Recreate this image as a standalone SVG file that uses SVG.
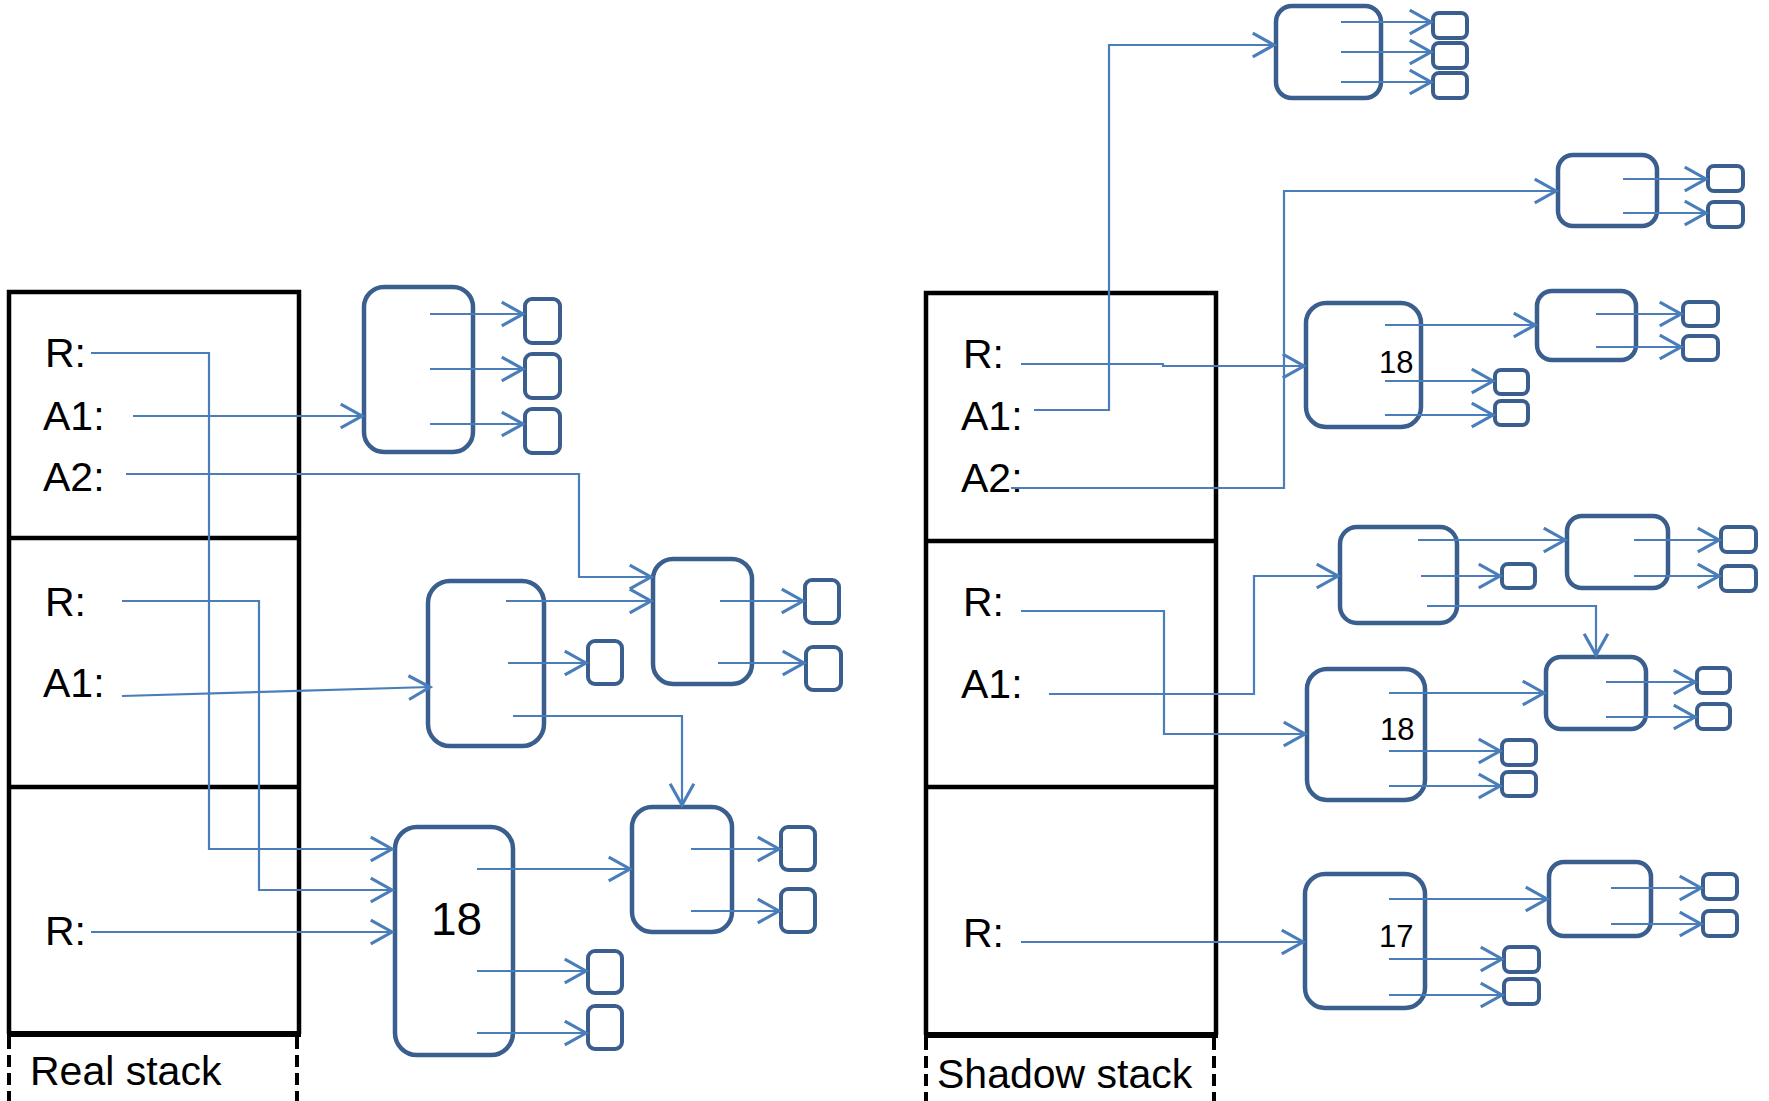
<svg xmlns="http://www.w3.org/2000/svg" width="1769" height="1101" viewBox="0 0 1769 1101">
<style>
.stk{fill:none;stroke:#000;stroke-width:4.5}
.bot{fill:none;stroke:#000;stroke-width:6}
.dash{fill:none;stroke:#000;stroke-width:4;stroke-dasharray:12 6}
.nd{fill:#fff;stroke:#3A5F8E;stroke-width:4.5}
.sm{fill:#fff;stroke:#3A5F8E;stroke-width:4}
.lbl{font-family:"Liberation Sans",Arial,sans-serif;font-size:41px;fill:#000}
.num{font-family:"Liberation Sans",Arial,sans-serif;font-size:46px;fill:#000}
.nums{font-family:"Liberation Sans",Arial,sans-serif;font-size:31px;fill:#000}
.c{fill:none;stroke:#4A7EBB;stroke-width:2.2;marker-end:url(#a)}
</style>
<defs>
<marker id="a" markerUnits="userSpaceOnUse" markerWidth="30" markerHeight="30" viewBox="-20 -12 24 24" refX="0" refY="0" orient="auto" overflow="visible">
<path d="M-17,-9.5 L0,0 L-17,9.5" fill="none" stroke="#4A7EBB" stroke-width="2.5"/>
</marker>
</defs>
<rect width="1769" height="1101" fill="#fff"/>

<g id="real-stack">
<path class="stk" d="M9,1034 V292 H299 V1034"/>
<path class="stk" d="M9,538 H299 M9,787 H299"/>
<path class="bot" d="M7,1034 H301"/>
<path class="dash" d="M9,1037 V1101 M297,1037 V1101"/>
<text class="lbl" x="30" y="1085">Real stack</text>
<text class="lbl" x="45" y="367">R:</text>
<text class="lbl" x="43" y="430">A1:</text>
<text class="lbl" x="43" y="491">A2:</text>
<text class="lbl" x="45" y="616">R:</text>
<text class="lbl" x="43" y="697">A1:</text>
<text class="lbl" x="45" y="945">R:</text>
</g>

<g id="shadow-stack">
<path class="stk" d="M926,1035 V293 H1216 V1035"/>
<path class="stk" d="M926,541 H1216 M926,787 H1216"/>
<path class="bot" d="M924,1035 H1218"/>
<path class="dash" d="M926,1038 V1101 M1214,1038 V1101"/>
<text class="lbl" x="937" y="1088">Shadow stack</text>
<text class="lbl" x="963" y="368">R:</text>
<text class="lbl" x="961" y="430">A1:</text>
<text class="lbl" x="961" y="492">A2:</text>
<text class="lbl" x="963" y="616">R:</text>
<text class="lbl" x="961" y="698">A1:</text>
<text class="lbl" x="963" y="947">R:</text>
</g>

<g id="L1"><rect class="nd" x="364" y="287" width="109" height="165" rx="20"/></g>
<g id="L1a"><rect class="sm" x="525" y="299" width="35" height="44" rx="7"/></g>
<g id="L1b"><rect class="sm" x="525" y="354" width="35" height="44" rx="7"/></g>
<g id="L1c"><rect class="sm" x="525" y="409" width="35" height="44" rx="7"/></g>
<g id="L2"><rect class="nd" x="428" y="581" width="116" height="165" rx="22"/></g>
<g id="L2a"><rect class="sm" x="588" y="641" width="34" height="43" rx="7"/></g>
<g id="L3"><rect class="nd" x="653" y="559" width="99" height="125" rx="20"/></g>
<g id="L3a"><rect class="sm" x="805" y="580" width="34" height="43" rx="7"/></g>
<g id="L3b"><rect class="sm" x="806" y="647" width="35" height="43" rx="7"/></g>
<g id="L4"><rect class="nd" x="395" y="827" width="118" height="228" rx="22"/><text class="num" x="431" y="935">18</text></g>
<g id="L4a"><rect class="sm" x="588" y="951" width="34" height="42" rx="7"/></g>
<g id="L4b"><rect class="sm" x="588" y="1006" width="34" height="43" rx="7"/></g>
<g id="L5"><rect class="nd" x="632" y="807" width="100" height="125" rx="20"/></g>
<g id="L5a"><rect class="sm" x="781" y="827" width="34" height="43" rx="7"/></g>
<g id="L5b"><rect class="sm" x="781" y="889" width="34" height="43" rx="7"/></g>

<g id="R1"><rect class="nd" x="1276" y="6" width="105" height="92" rx="16"/></g>
<g id="R1a"><rect class="sm" x="1433" y="13" width="34" height="25" rx="6"/></g>
<g id="R1b"><rect class="sm" x="1433" y="43" width="34" height="25" rx="6"/></g>
<g id="R1c"><rect class="sm" x="1433" y="73" width="34" height="25" rx="6"/></g>
<g id="R2"><rect class="nd" x="1558" y="155" width="99" height="71" rx="15"/></g>
<g id="R2a"><rect class="sm" x="1708" y="166" width="35" height="25" rx="6"/></g>
<g id="R2b"><rect class="sm" x="1708" y="202" width="35" height="25" rx="6"/></g>
<g id="R3"><rect class="nd" x="1306" y="303" width="115" height="124" rx="20"/><text class="nums" x="1379" y="373">18</text></g>
<g id="R3a"><rect class="sm" x="1495" y="370" width="33" height="24" rx="6"/></g>
<g id="R3b"><rect class="sm" x="1495" y="401" width="33" height="24" rx="6"/></g>
<g id="R4"><rect class="nd" x="1537" y="291" width="99" height="69" rx="15"/></g>
<g id="R4a"><rect class="sm" x="1683" y="302" width="35" height="24" rx="6"/></g>
<g id="R4b"><rect class="sm" x="1683" y="336" width="35" height="24" rx="6"/></g>
<g id="R5"><rect class="nd" x="1340" y="527" width="117" height="96" rx="17"/></g>
<g id="R5a"><rect class="sm" x="1502" y="564" width="33" height="24" rx="6"/></g>
<g id="R6"><rect class="nd" x="1567" y="516" width="101" height="72" rx="15"/></g>
<g id="R6a"><rect class="sm" x="1721" y="527" width="35" height="25" rx="6"/></g>
<g id="R6b"><rect class="sm" x="1721" y="566" width="35" height="25" rx="6"/></g>
<g id="R7"><rect class="nd" x="1546" y="657" width="100" height="72" rx="15"/></g>
<g id="R7a"><rect class="sm" x="1697" y="668" width="33" height="25" rx="6"/></g>
<g id="R7b"><rect class="sm" x="1697" y="704" width="33" height="25" rx="6"/></g>
<g id="R8"><rect class="nd" x="1307" y="669" width="118" height="131" rx="20"/><text class="nums" x="1380" y="740">18</text></g>
<g id="R8a"><rect class="sm" x="1502" y="740" width="34" height="25" rx="6"/></g>
<g id="R8b"><rect class="sm" x="1502" y="772" width="34" height="24" rx="6"/></g>
<g id="R9"><rect class="nd" x="1305" y="874" width="120" height="134" rx="20"/><text class="nums" x="1379" y="947">17</text></g>
<g id="R9a"><rect class="sm" x="1504" y="947" width="35" height="25" rx="6"/></g>
<g id="R9b"><rect class="sm" x="1504" y="979" width="35" height="25" rx="6"/></g>
<g id="R10"><rect class="nd" x="1549" y="862" width="102" height="74" rx="15"/></g>
<g id="R10a"><rect class="sm" x="1703" y="874" width="34" height="25" rx="6"/></g>
<g id="R10b"><rect class="sm" x="1703" y="911" width="34" height="25" rx="6"/></g>

<g id="connectors">
<path class="c" d="M91,353 H209 V849 H392"/>
<path class="c" d="M133,416 H362"/>
<path class="c" d="M126,474 H579 V577 H651"/>
<path class="c" d="M430,314 H523"/>
<path class="c" d="M430,369 H523"/>
<path class="c" d="M430,424 H523"/>
<path class="c" d="M122,601 H259 V890 H392"/>
<path class="c" d="M122,696 L430,687"/>
<path class="c" d="M506,601 H651"/>
<path class="c" d="M508,663 H586"/>
<path class="c" d="M513,716 H682 V805"/>
<path class="c" d="M720,601 H803"/>
<path class="c" d="M718,663 H804"/>
<path class="c" d="M91,932 H392"/>
<path class="c" d="M477,869 H630"/>
<path class="c" d="M477,971 H586"/>
<path class="c" d="M477,1033 H586"/>
<path class="c" d="M691,849 H779"/>
<path class="c" d="M691,911 H779"/>

<path class="c" d="M1021,364 H1163 V366 H1304"/>
<path class="c" d="M1034,410 H1109 V45 H1274"/>
<path class="c" d="M1011,488 H1284 V191 H1556"/>
<path class="c" d="M1341,22 H1431"/>
<path class="c" d="M1341,52 H1431"/>
<path class="c" d="M1341,82 H1431"/>
<path class="c" d="M1623,179 H1706"/>
<path class="c" d="M1623,213 H1706"/>
<path class="c" d="M1385,325 H1535"/>
<path class="c" d="M1385,381 H1493"/>
<path class="c" d="M1385,415 H1493"/>
<path class="c" d="M1596,314 H1681"/>
<path class="c" d="M1596,347 H1681"/>
<path class="c" d="M1049,694 H1254 V576 H1338"/>
<path class="c" d="M1021,611 H1164 V734 H1305"/>
<path class="c" d="M1418,540 H1565"/>
<path class="c" d="M1421,576 H1500"/>
<path class="c" d="M1427,606 H1596 V655"/>
<path class="c" d="M1634,540 H1719"/>
<path class="c" d="M1634,576 H1719"/>
<path class="c" d="M1606,682 H1695"/>
<path class="c" d="M1606,717 H1695"/>
<path class="c" d="M1389,693 H1544"/>
<path class="c" d="M1389,751 H1500"/>
<path class="c" d="M1389,786 H1500"/>
<path class="c" d="M1021,942 H1303"/>
<path class="c" d="M1389,899 H1547"/>
<path class="c" d="M1389,959 H1502"/>
<path class="c" d="M1389,995 H1502"/>
<path class="c" d="M1611,888 H1701"/>
<path class="c" d="M1611,924 H1701"/>
</g>
</svg>
